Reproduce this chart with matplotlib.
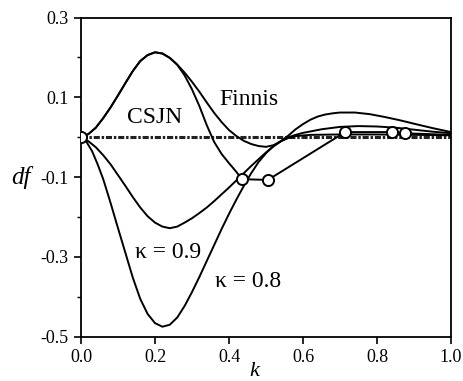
import matplotlib
matplotlib.use("Agg")
import matplotlib.pyplot as plt
from matplotlib.ticker import MultipleLocator

plt.rcParams['font.family'] = ['Liberation Serif', 'DejaVu Serif']

# common rising part (CSJN and Finnis coincide)
k_common = [0, 0.02, 0.04, 0.06, 0.08, 0.10, 0.12, 0.14, 0.16, 0.18, 0.20, 0.22, 0.24, 0.26]
df_common = [0, 0.008, 0.024, 0.048, 0.075, 0.105, 0.136, 0.166, 0.191, 0.206, 0.213, 0.21,
             0.199, 0.182]

# CSJN continuation (steeper branch, then through computed points)
k_csjn = [0.28, 0.30, 0.32, 0.34, 0.36, 0.38, 0.40, 0.42, 0.435, 0.505, 0.714, 0.84, 0.876, 1.0]
df_csjn = [0.155, 0.12, 0.078, 0.03, -0.012, -0.042, -0.065, -0.087, -0.105, -0.107, 0.013,
           0.013, 0.01, 0.006]

# Finnis continuation
k_finnis = [0.28, 0.30, 0.32, 0.34, 0.36, 0.38, 0.40, 0.42, 0.44, 0.46, 0.48, 0.50, 0.52, 0.54,
            0.56, 0.58, 0.60, 0.62, 0.64, 0.66, 0.68, 0.70, 0.74, 0.78, 0.82, 0.86, 0.90, 0.95,
            1.0]
df_finnis = [0.162, 0.139, 0.114, 0.087, 0.061, 0.038, 0.018, 0.003, -0.009, -0.017, -0.022,
             -0.024, -0.02, -0.01, 0.004, 0.02, 0.033, 0.044, 0.052, 0.057, 0.06, 0.062, 0.062,
             0.058, 0.051, 0.043, 0.034, 0.023, 0.013]

# kappa = 0.9
k_09 = [0, 0.02, 0.04, 0.06, 0.08, 0.10, 0.12, 0.14, 0.16, 0.18, 0.20, 0.22, 0.24, 0.26, 0.28,
        0.30, 0.32, 0.34, 0.36, 0.38, 0.40, 0.42, 0.44, 0.46, 0.48, 0.50, 0.52, 0.54, 0.56, 0.58,
        0.60, 0.65, 0.70, 0.75, 0.80, 0.85, 0.90, 0.95, 1.0]
df_09 = [0, -0.01, -0.025, -0.045, -0.068, -0.095, -0.122, -0.15, -0.176, -0.198, -0.214,
         -0.224, -0.228, -0.224, -0.214, -0.203, -0.19, -0.176, -0.16, -0.143, -0.126, -0.108,
         -0.09, -0.072, -0.055, -0.038, -0.023, -0.01, 0.0, 0.006, 0.011, 0.02, 0.026, 0.028,
         0.027, 0.024, 0.019, 0.014, 0.01]

# kappa = 0.8
k_08 = [0, 0.015, 0.03, 0.045, 0.06, 0.08, 0.10, 0.12, 0.14, 0.16, 0.18, 0.20, 0.22, 0.24, 0.26,
        0.28, 0.30, 0.32, 0.34, 0.36, 0.38, 0.40, 0.42, 0.44, 0.46, 0.48, 0.50, 0.52, 0.54, 0.56,
        0.58, 0.62, 0.70, 0.80, 0.90, 1.0]
df_08 = [0, -0.012, -0.035, -0.068, -0.105, -0.165, -0.228, -0.29, -0.352, -0.405, -0.443,
         -0.466, -0.475, -0.47, -0.452, -0.423, -0.388, -0.35, -0.31, -0.27, -0.23, -0.192,
         -0.156, -0.122, -0.09, -0.062, -0.04, -0.022, -0.01, -0.002, 0.003, 0.006, 0.007,
         0.007, 0.006, 0.005]

# circle markers
k_marks = [0, 0.435, 0.505, 0.714, 0.84, 0.876]
df_marks = [0, -0.105, -0.107, 0.013, 0.013, 0.01]

x_ticks = [0.0, 0.2, 0.4, 0.6, 0.8, 1.0]
y_ticks = [0.3, 0.1, -0.1, -0.3, -0.5]

fig = plt.figure(figsize=(4.64, 3.81), dpi=100)
ax = fig.add_axes([0.1746, 0.1163, 0.7974, 0.8375])

lw = 1.4
ax.plot([0, 1], [0, 0], color='#222222', lw=2.2, linestyle=(0, (2.0, 0.6, 0.8, 0.6)), zorder=1)
ax.plot(k_common + k_csjn, df_common + df_csjn, color='black', lw=lw, zorder=2)
ax.plot(k_common + k_finnis, df_common + df_finnis, color='black', lw=lw, zorder=2)
ax.plot(k_09, df_09, color='black', lw=lw, zorder=2)
ax.plot(k_08, df_08, color='black', lw=lw, zorder=2)
ax.plot(k_marks, df_marks, linestyle='none', marker='o', markersize=8,
        markerfacecolor='white', markeredgecolor='black', markeredgewidth=1.4, zorder=5)

ax.set_xlim(0, 1)
ax.set_ylim(-0.5, 0.3)
ax.set_xticks(x_ticks)
ax.set_xticklabels([f"{v:.1f}" for v in x_ticks])
ax.set_yticks(y_ticks)
ax.set_yticklabels([f"{v:.1f}" for v in y_ticks])
ax.yaxis.set_minor_locator(MultipleLocator(0.1))
ax.tick_params(axis='both', which='major', direction='out', length=5, width=1.2,
               labelsize=13, pad=4)
ax.tick_params(axis='y', which='minor', direction='out', length=3, width=1.0)
for s in ax.spines.values():
    s.set_linewidth(1.3)

ax.text(0.20, 0.05, "CSJN", fontsize=17, ha='center', va='center', zorder=6)
ax.text(0.455, 0.095, "Finnis", fontsize=17, ha='center', va='center', zorder=6)
ax.text(0.235, -0.288, "κ = 0.9", fontsize=17, ha='center', va='center', zorder=6,
        bbox=dict(facecolor='white', edgecolor='none', pad=0.5))
ax.text(0.452, -0.362, "κ = 0.8", fontsize=17, ha='center', va='center', zorder=6)

fig.text(21 / 464, 1 - 177 / 381, "df", fontsize=18, style='italic', ha='center', va='center')
fig.text(254 / 464, 1 - 371 / 381, "k", fontsize=16, style='italic', ha='center', va='center')

fig.savefig("out.png", dpi=100)
